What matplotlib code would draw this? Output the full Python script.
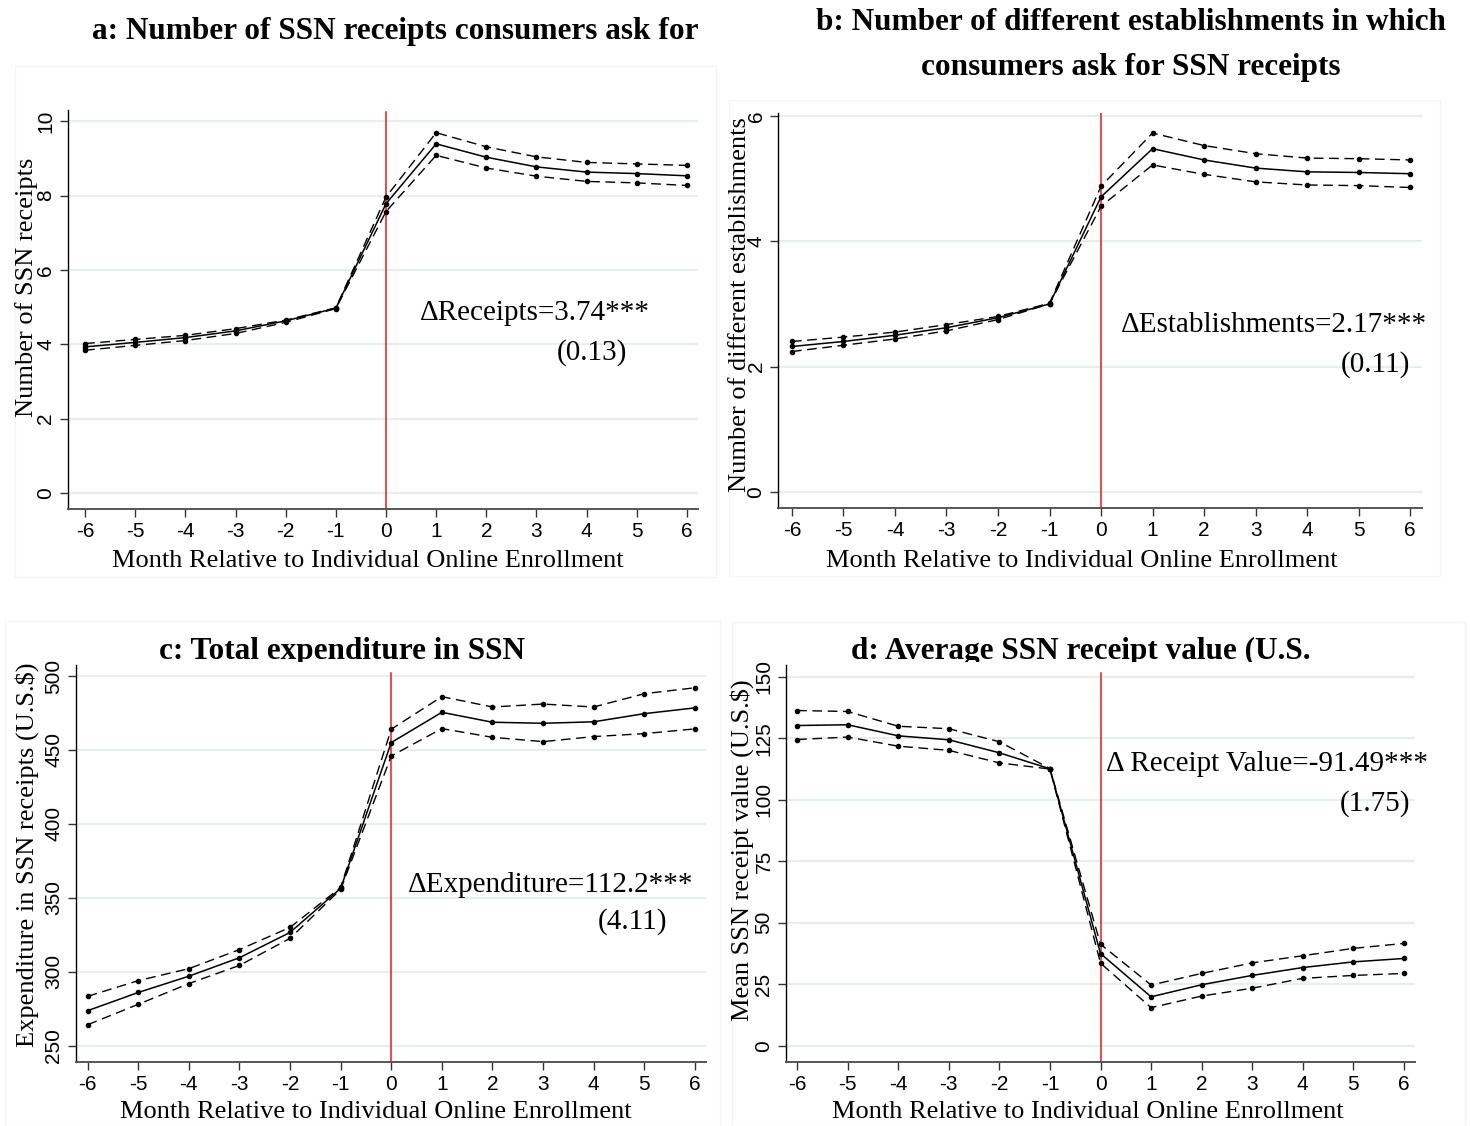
import matplotlib
matplotlib.use("Agg")
from matplotlib import pyplot as plt
from matplotlib.patches import Rectangle
from matplotlib.transforms import Bbox

plt.rcParams["axes.unicode_minus"] = False

months = [-6, -5, -4, -3, -2, -1, 0, 1, 2, 3, 4, 5, 6]

receipts_mid = [3.93, 4.05, 4.18, 4.36, 4.63, 4.97, 7.78, 9.39, 9.03, 8.77, 8.63, 8.59, 8.53]
receipts_hi = [4.02, 4.13, 4.24, 4.42, 4.65, 4.98, 7.96, 9.69, 9.31, 9.04, 8.89, 8.85, 8.81]
receipts_lo = [3.84, 3.97, 4.10, 4.29, 4.59, 4.96, 7.57, 9.08, 8.74, 8.52, 8.38, 8.34, 8.27]

estab_mid = [2.32, 2.40, 2.50, 2.62, 2.78, 3.00, 4.71, 5.48, 5.30, 5.17, 5.11, 5.10, 5.08]
estab_hi = [2.40, 2.47, 2.55, 2.67, 2.80, 3.01, 4.88, 5.73, 5.53, 5.40, 5.33, 5.32, 5.30]
estab_lo = [2.24, 2.34, 2.44, 2.57, 2.75, 3.00, 4.56, 5.22, 5.07, 4.95, 4.90, 4.89, 4.86]

expend_mid = [273.7, 286.0, 297.0, 309.5, 326.6, 356.4, 455.0, 475.4, 468.7, 468.0, 469.0, 474.5, 478.4]
expend_hi = [283.4, 294.0, 302.1, 315.0, 330.0, 357.0, 464.0, 486.0, 479.0, 481.0, 479.0, 488.0, 492.0]
expend_lo = [264.2, 278.0, 292.0, 304.3, 322.6, 355.7, 445.9, 464.4, 458.5, 455.6, 459.0, 461.0, 464.2]

value_mid = [130.2, 130.5, 126.0, 124.4, 119.1, 112.6, 37.5, 19.9, 24.8, 28.6, 31.8, 34.1, 35.5]
value_hi = [136.3, 135.9, 129.9, 128.9, 123.6, 112.7, 41.3, 24.7, 29.4, 33.7, 36.6, 39.6, 41.6]
value_lo = [124.5, 125.5, 121.8, 120.1, 115.0, 112.5, 33.6, 15.5, 20.2, 23.4, 27.4, 28.6, 29.4]

W, H = 1470, 1126
SERIF = "Liberation Serif"
SANS = "Liberation Sans"

fig = plt.figure(figsize=(W / 100, H / 100), dpi=100)


def fx(x):
    return x / W


def fy(y):
    return 1 - y / H


# faint frames left over from the pasted panels
for l, t, r, b in [(15, 66, 716, 577), (729, 100, 1440, 576),
                   (5, 621, 720, 1126), (732, 622, 1465, 1126)]:
    fig.add_artist(Rectangle((fx(l), fy(b)), fx(r - l), (b - t) / H, fill=False,
                             ec="#f3f6f6", lw=1.0, transform=fig.transFigure))


def panel(box, xlim, ylim, yticks, mid, hi, lo, ylabel, ylab_pos, xlab_pos, vline_top):
    l, t, r, b = box
    ax = fig.add_axes([fx(l), fy(b), fx(r - l), (b - t) / H])
    ax.set_xlim(*xlim)
    ax.set_ylim(*ylim)
    ax.set_xticks(months)
    ax.set_yticks(yticks)
    ax.grid(axis="y", color="#e6eef0", lw=1.6)
    ax.set_axisbelow(True)
    for s in ["top", "right"]:
        ax.spines[s].set_visible(False)
    ax.spines["left"].set_color("black")
    ax.spines["left"].set_linewidth(1.0)
    ax.spines["bottom"].set_color("#555555")
    ax.spines["bottom"].set_linewidth(1.4)
    ax.tick_params(axis="both", direction="out", length=6, width=1.0,
                   labelsize=15, color="#333333", pad=3)
    for lab in ax.get_xticklabels() + ax.get_yticklabels():
        lab.set_family(SANS)
    for lab in ax.get_yticklabels():
        lab.set_rotation(90)
        lab.set_va("center")
    ax.plot(months, hi, color="black", lw=1.0, ls=(0, (7, 4)), marker="o", ms=3.0)
    ax.plot(months, mid, color="black", lw=1.1, marker="o", ms=3.0)
    ax.plot(months, lo, color="black", lw=1.0, ls=(0, (7, 4)), marker="o", ms=3.0)
    # enrollment month marker
    top_frac = (b - vline_top) / (b - t)
    ax.axvline(0, ymin=0, ymax=top_frac, color="#e8191c", lw=1.1, zorder=1.5)
    fig.text(fx(ylab_pos[0]), fy(ylab_pos[1]), ylabel, rotation=90, ha="center",
             va="center", family=SERIF, fontsize=19)
    fig.text(fx(xlab_pos[0]), fy(xlab_pos[1]), "Month Relative to Individual Online Enrollment",
             ha="center", va="center", family=SERIF, fontsize=19)
    return ax


panel((68, 110, 698, 509), (-6.34, 6.22), (-0.43, 10.3), [0, 2, 4, 6, 8, 10],
      receipts_mid, receipts_hi, receipts_lo, "Number of SSN receipts",
      (27, 287), (368, 561), 112)
panel((778, 113, 1422, 508), (-6.27, 6.23), (-0.26, 6.05), [0, 2, 4, 6],
      estab_mid, estab_hi, estab_lo, "Number of different establishments",
      (740, 305), (1082, 561), 113)
panel((76, 665, 706, 1062), (-6.23, 6.22), (239, 507.4), [250, 300, 350, 400, 450, 500],
      expend_mid, expend_hi, expend_lo, "Expenditure in SSN receipts (U.S.$)",
      (27, 855), (376, 1112), 673)
panel((786, 665, 1415, 1062), (-6.22, 6.22), (-6.6, 154.8), [0, 25, 50, 75, 100, 125, 150],
      value_mid, value_hi, value_lo, "Mean SSN receipt value (U.S.$)",
      (742, 850), (1088, 1112), 673)

# panel titles
title_kw = dict(family=SERIF, fontsize=22.5, fontweight="bold", ha="center", va="center")
fig.text(fx(395), fy(32), "a: Number of SSN receipts consumers ask for", **title_kw)
fig.text(fx(1131), fy(22), "b: Number of different establishments in which", **title_kw)
fig.text(fx(1131), fy(68), "consumers ask for SSN receipts", **title_kw)
clip = Bbox.from_extents(0, H - 662, W, H - 600)
for x, s in [(342, "c: Total expenditure in SSN"), (1081, "d: Average SSN receipt value (U.S.")]:
    t = fig.text(fx(x), fy(659), s, family=SERIF, fontsize=22.5, fontweight="bold",
                 ha="center", va="baseline")
    t.set_clip_box(clip)
    t.set_clip_on(True)

# effect annotations
note_kw = dict(family=SERIF, fontsize=21, va="center")
fig.text(fx(650), fy(313), "\u0394Receipts=3.74***", ha="right", **note_kw)
fig.text(fx(627), fy(353), "(0.13)", ha="right", **note_kw)
fig.text(fx(1427), fy(325), "\u0394Establishments=2.17***", ha="right", **note_kw)
fig.text(fx(1410), fy(365), "(0.11)", ha="right", **note_kw)
fig.text(fx(693), fy(885), "\u0394Expenditure=112.2***", ha="right", **note_kw)
fig.text(fx(667), fy(922), "(4.11)", ha="right", **note_kw)
fig.text(fx(1428), fy(764), "\u0394 Receipt Value=-91.49***", ha="right", **note_kw)
fig.text(fx(1410), fy(804), "(1.75)", ha="right", **note_kw)

fig.savefig("out.png", dpi=100)
